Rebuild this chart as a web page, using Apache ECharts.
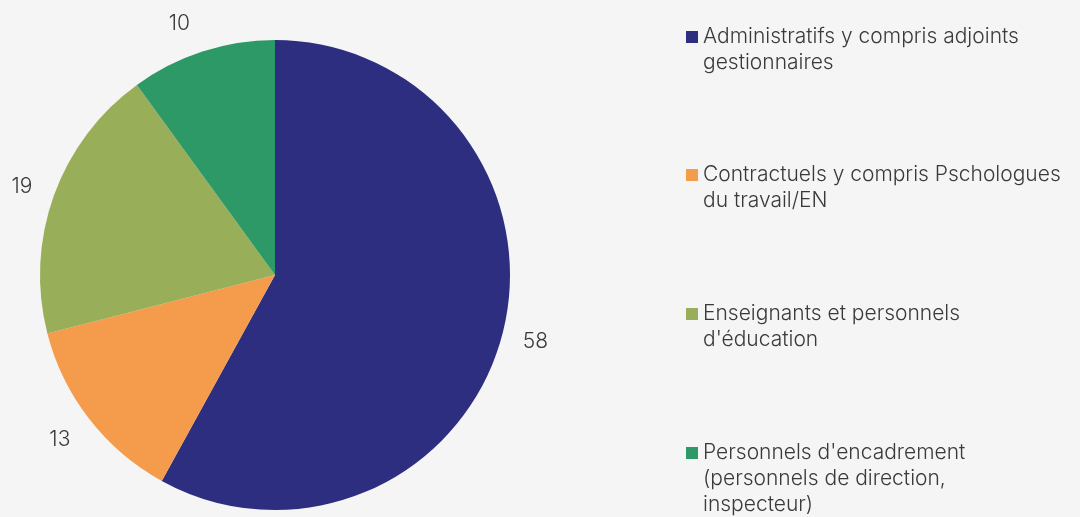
<!DOCTYPE html>
<html>
<head>
<meta charset="utf-8">
<script src="https://cdn.jsdelivr.net/npm/echarts@6/dist/echarts.min.js"></script>
<style>
  html, body { margin: 0; padding: 0; background: #f5f5f5; }
  #chart { width: 1080px; height: 517px; }
</style>
</head>
<body>
<div id="chart"></div>
<script>
// Répartition des effectifs par catégorie de personnel
const categories = [
  "Administratifs y compris adjoints gestionnaires",
  "Contractuels y compris Pschologues du travail/EN",
  "Enseignants et personnels d'éducation",
  "Personnels d'encadrement (personnels de direction, inspecteur)"
];
const legendLabels = [
  "Administratifs y compris adjoints\ngestionnaires",
  "Contractuels y compris Pschologues\ndu travail/EN",
  "Enseignants et personnels\nd'éducation",
  "Personnels d'encadrement\n(personnels de direction,\ninspecteur)"
];
const values = [58, 13, 19, 10];
const colors = ["#2d2e80", "#f59b4c", "#99ae58", "#2d9966"];

const FONT = "Inter, 'Open Sans', sans-serif";
const TEXT_COLOR = "#3a3a3a";
const LINE_H = 26;
const legendTops = [37, 175, 314, 453];
// small nudge for the label of the narrow last slice
const labelOffsets = [[-2, -1], [-1, -1], [2, 3], [-12, 6]];

const pieData = categories.map((name, i) => ({ name, value: values[i], itemStyle: { color: colors[i] } }));

// One legend block per category; blank lines above the text keep the
// marker level with the first text line
const legends = categories.map((name, i) => {
  const lines = legendLabels[i].split("\n").length;
  const blockH = (2 * lines - 1) * LINE_H;
  return {
    orient: "vertical",
    left: 686,
    top: legendTops[i] - blockH / 2,
    padding: 0,
    icon: "rect",
    itemWidth: 12,
    itemHeight: 12,
    itemGap: 0,
    selectedMode: false,
    data: [name],
    formatter: () => "\n".repeat(lines - 1) + legendLabels[i],
    textStyle: {
      fontFamily: FONT,
      fontSize: 21,
      fontWeight: 300,
      lineHeight: LINE_H,
      color: TEXT_COLOR
    }
  };
});

const chart = echarts.init(document.getElementById("chart"));
chart.setOption({
  backgroundColor: "#f5f5f5",
  animation: false,
  legend: legends,
  series: [
    {
      type: "pie",
      center: [275, 275],
      radius: [0, 235],
      startAngle: 90,
      clockwise: true,
      data: pieData,
      label: { show: false },
      labelLine: { show: false },
      emphasis: { disabled: true }
    },
    {
      // transparent disc carrying the value labels just outside the pie
      type: "pie",
      center: [275, 275],
      radius: [0, 536],
      startAngle: 90,
      clockwise: true,
      silent: true,
      data: categories.map((name, i) => ({
        name,
        value: values[i],
        label: { offset: labelOffsets[i] }
      })),
      itemStyle: { color: "rgba(0,0,0,0)" },
      label: {
        show: true,
        position: "inside",
        formatter: "{c}",
        fontFamily: FONT,
        fontSize: 21,
        fontWeight: 300,
        color: TEXT_COLOR
      },
      labelLine: { show: false },
      emphasis: { disabled: true }
    }
  ]
});
</script>
</body>
</html>
